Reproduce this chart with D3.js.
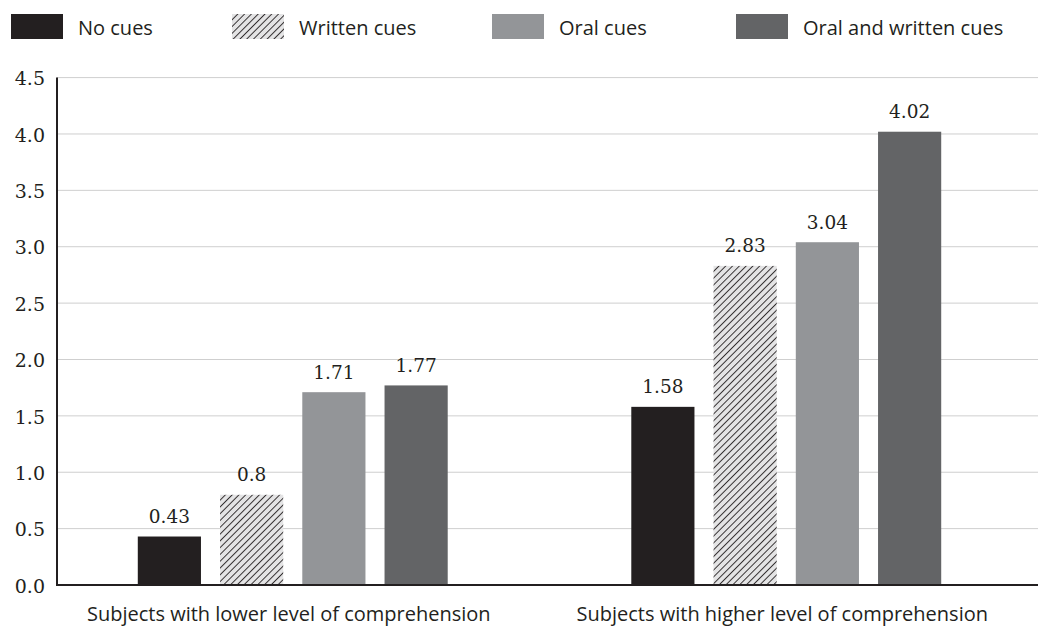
<!DOCTYPE html>
<html><head><meta charset="utf-8">
<script src="https://cdn.jsdelivr.net/npm/d3@7"></script>
<style>body{margin:0;background:#fff}</style>
</head><body>
<svg id="c" width="1038" height="626"></svg>
<script>
const groups = ["Subjects with lower level of comprehension", "Subjects with higher level of comprehension"];
const series = ["No cues", "Written cues", "Oral cues", "Oral and written cues"];
const noCues = [0.43, 1.58];
const writtenCues = [0.8, 2.83];
const oralCues = [1.71, 3.04];
const oralWrittenCues = [1.77, 4.02];
const yTicks = [0, 0.5, 1.0, 1.5, 2.0, 2.5, 3.0, 3.5, 4.0, 4.5];
const valueLabels = [["0.43","1.58"],["0.8","2.83"],["1.71","3.04"],["1.77","4.02"]];

const values = [noCues, writtenCues, oralCues, oralWrittenCues];
const fills = ["#231f20", "url(#hatch)", "#939598", "#636466"];
const sansFont = "'Open Sans', Lato, sans-serif";
const numFont = "'DejaVu Serif', serif";

const svg = d3.select("#c");
const defs = svg.append("defs");
const pat = defs.append("pattern").attr("id","hatch").attr("patternUnits","userSpaceOnUse")
  .attr("width",4.8).attr("height",4.8).attr("patternTransform","rotate(45)");
pat.append("rect").attr("width",4.8).attr("height",4.8).attr("fill","#e4e4e5");
pat.append("line").attr("x1",0.5).attr("y1",0).attr("x2",0.5).attr("y2",4.8).attr("stroke","#231f20").attr("stroke-width",0.9);

const mLeft = 57, mRight = 1038, mTop = 77.6, mBottom = 585;
const y = d3.scaleLinear().domain([0,4.5]).range([mBottom, mTop]);
const x0 = d3.scaleBand().domain(groups).range([46,1033]).paddingInner(0.372).paddingOuter(0.186);
const x1 = d3.scaleBand().domain(series).range([0, x0.bandwidth()]).paddingInner(0.232).paddingOuter(0);

// gridlines
svg.append("g").selectAll("line").data(yTicks.filter(d=>d>0)).join("line")
  .attr("x1",mLeft).attr("x2",mRight).attr("y1",d=>y(d)).attr("y2",d=>y(d))
  .attr("stroke","#cfcfcf").attr("stroke-width",1);

// y axis
const yAxis = d3.axisLeft(y).tickValues(yTicks).tickFormat(d3.format(".1f")).tickSize(0).tickPadding(12);
const gy = svg.append("g").attr("transform",`translate(${mLeft},0)`).call(yAxis);
gy.select(".domain").remove();
gy.selectAll("text").attr("dy","0.38em").attr("font-family",numFont).attr("font-size",19).attr("fill","#231f20");
svg.append("line").attr("x1",mLeft).attr("x2",mLeft).attr("y1",mTop).attr("y2",mBottom).attr("stroke","#231f20").attr("stroke-width",2);

// bars
series.forEach((s,si)=>{
  const g = svg.append("g");
  g.selectAll("rect").data(groups).join("rect")
    .attr("x",(d)=>x0(d)+x1(s)).attr("width",x1.bandwidth())
    .attr("y",(d,i)=>y(values[si][i])).attr("height",(d,i)=>mBottom-y(values[si][i]))
    .attr("fill",fills[si]);
  g.selectAll("text").data(groups).join("text")
    .attr("x",(d)=>x0(d)+x1(s)+x1.bandwidth()/2)
    .attr("y",(d,i)=>y(values[si][i])-13.5)
    .attr("text-anchor","middle").attr("font-family",numFont).attr("font-size",18.5).attr("fill","#231f20")
    .text((d,i)=>valueLabels[si][i]);
});

// x axis
const xAxis = d3.axisBottom(x0).tickSize(0).tickPadding(0);
const gx = svg.append("g").attr("transform",`translate(-4,${mBottom})`).call(xAxis);
gx.select(".domain").remove();
gx.selectAll("text").attr("dy",null).attr("y",36).attr("font-family",sansFont).attr("font-size",20).attr("fill","#231f20");
svg.append("line").attr("x1",mLeft-1).attr("x2",mRight).attr("y1",mBottom).attr("y2",mBottom).attr("stroke","#231f20").attr("stroke-width",2);

// legend
const legX = [11, 232, 492, 736];
const lg = svg.append("g");
series.forEach((s,i)=>{
  lg.append("rect").attr("x",legX[i]).attr("y",14).attr("width",52).attr("height",25).attr("fill",fills[i]);
  lg.append("text").attr("x",legX[i]+67).attr("y",35).attr("font-family",sansFont)
    .attr("font-size",20).attr("fill","#231f20").text(s);
});
</script>
</body></html>
